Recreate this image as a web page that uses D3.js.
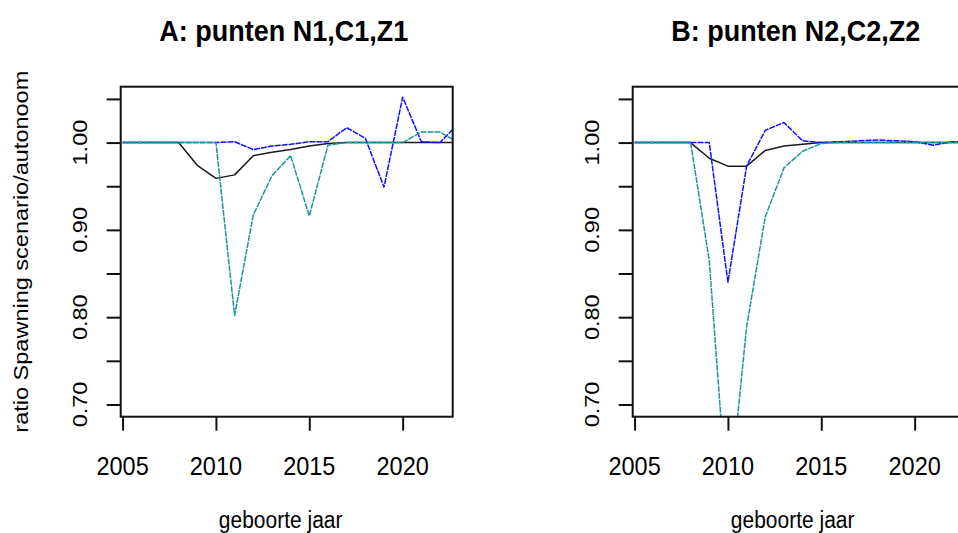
<!DOCTYPE html>
<html>
<head>
<meta charset="utf-8">
<script src="https://cdn.jsdelivr.net/npm/d3@7"></script>
<style>
  body { margin: 0; background: #fff; }
  text { font-family: 'Liberation Sans', Arial, sans-serif; fill: #000; }
</style>
</head>
<body>
<svg id="chart" width="958" height="533"></svg>
<script>
// years on the x axis
const years = d3.range(2005, 2024);

// panel A: punten N1,C1,Z1
const blackA = [1, 1, 1, 1, 0.974, 0.959, 0.963, 0.985, 0.989, 0.992, 0.996, 0.999, 1, 1, 1, 1, 1, 1, 1];
const blueA = [1, 1, 1, 1, 1, 1, 1.001, 0.992, 0.996, 0.998, 1.001, 1.001, 1.017, 1.005, 0.949, 1.052, 1.001, 1.0, 1.022];
const tealA = [1, 1, 1, 1, 1, 1, 0.802, 0.917, 0.962, 0.985, 0.916, 0.997, 1, 1, 1, 1, 1.012, 1.012, 1.0];

// panel B: punten N2,C2,Z2
const blackB = [1, 1, 1, 1, 0.982, 0.973, 0.973, 0.991, 0.996, 0.998, 1, 1, 1, 1, 1, 1, 1, 1, 1];
const blueB = [1, 1, 1, 1, 1, 0.84, 0.973, 1.014, 1.023, 1.002, 1, 1.001, 1.002, 1.003, 1.002, 1.001, 0.997, 1.001, 1.001];
const tealB = [1, 1, 1, 1, 0.865, 0.575, 0.789, 0.915, 0.971, 0.99, 0.999, 1, 1, 1, 1, 1, 1, 1, 1];

const titles = ['A: punten N1,C1,Z1', 'B: punten N2,C2,Z2'];
const xTicks = [2005, 2010, 2015, 2020];
const yTicks = [0.7, 0.75, 0.8, 0.85, 0.9, 0.95, 1.0, 1.05];
const yLabels = [0.7, 0.8, 0.9, 1.0];
const xTitle = 'geboorte jaar';
const yTitle = 'ratio Spawning scenario/autonoom';

const panels = [
  { left: 120.7, title: titles[0], series: [blackA, blueA, tealA], ylab: true },
  { left: 632.7, title: titles[1], series: [blackB, blueB, tealB], ylab: false },
];

const plotW = 332;
const plotTop = 86.7;
const plotBottom = 416.7;
const stretch = 1.12; // text in the picture is a bit taller than wide
const font = 21;

const styles = [
  { color: '#1a1a1a', width: 1.5, dash: null },
  { color: '#1010ff', width: 1.5, dash: '6,1' },
  { color: '#1c9797', width: 1.5, dash: '6,1' },
];

const svg = d3.select('#chart');

const label = (g, x, y, txt, size, opts = {}) => {
  const rot = opts.rotate ? ' rotate(-90) scale(' + stretch + ',1)' : ' scale(1,' + stretch + ')';
  return g
    .append('text')
    .attr('transform', `translate(${x},${y})${rot}`)
    .attr('text-anchor', 'middle')
    .attr('dominant-baseline', 'central')
    .attr('font-size', size)
    .attr('font-weight', opts.bold ? 'bold' : null)
    .text(txt);
};

panels.forEach((p, i) => {
  const x = d3
    .scaleLinear()
    .domain([2004.9, 2022.68])
    .range([p.left, p.left + plotW]);
  const y = d3
    .scaleLinear()
    .domain([0.686, 1.064])
    .range([plotBottom, plotTop]);

  const g = svg.append('g');

  g.append('clipPath')
    .attr('id', 'clip' + i)
    .append('rect')
    .attr('x', p.left)
    .attr('y', plotTop)
    .attr('width', plotW)
    .attr('height', plotBottom - plotTop);

  const line = d3
    .line()
    .x((d, k) => x(years[k]))
    .y(d => y(d));

  const lines = g.append('g').attr('clip-path', `url(#clip${i})`);
  p.series.forEach((s, k) => {
    lines
      .append('path')
      .datum(s)
      .attr('fill', 'none')
      .attr('stroke', styles[k].color)
      .attr('stroke-width', styles[k].width)
      .attr('stroke-dasharray', styles[k].dash)
      .attr('stroke-linejoin', 'round')
      .attr('d', line);
  });

  // box
  g.append('rect')
    .attr('x', p.left)
    .attr('y', plotTop)
    .attr('width', plotW)
    .attr('height', plotBottom - plotTop)
    .attr('fill', 'none')
    .attr('stroke', '#111')
    .attr('stroke-width', 2);

  const xAxis = g
    .append('g')
    .attr('transform', `translate(0,${plotBottom})`)
    .call(d3.axisBottom(x).tickValues(xTicks).tickSize(14).tickSizeOuter(0).tickFormat(''));
  xAxis.select('.domain').remove();
  xAxis.selectAll('line').attr('stroke', '#111').attr('stroke-width', 2);
  xTicks.forEach(t => label(g, x(t), 466, t, 23.5));

  const yAxis = g
    .append('g')
    .attr('transform', `translate(${p.left},0)`)
    .call(d3.axisLeft(y).tickValues(yTicks).tickSize(14).tickSizeOuter(0).tickFormat(''));
  yAxis.select('.domain').remove();
  yAxis.selectAll('line').attr('stroke', '#111').attr('stroke-width', 2);
  yLabels.forEach(t => label(g, p.left - 40.7, y(t), d3.format('.2f')(t), font, { rotate: true }));

  label(g, p.left + plotW / 2 - 3, 30, p.title, 27, { bold: true });
  label(g, p.left + plotW / 2 - 6, 520, xTitle, font);
  if (p.ylab) label(g, 21, (plotTop + plotBottom) / 2, yTitle, font, { rotate: true });
});
</script>
</body>
</html>
